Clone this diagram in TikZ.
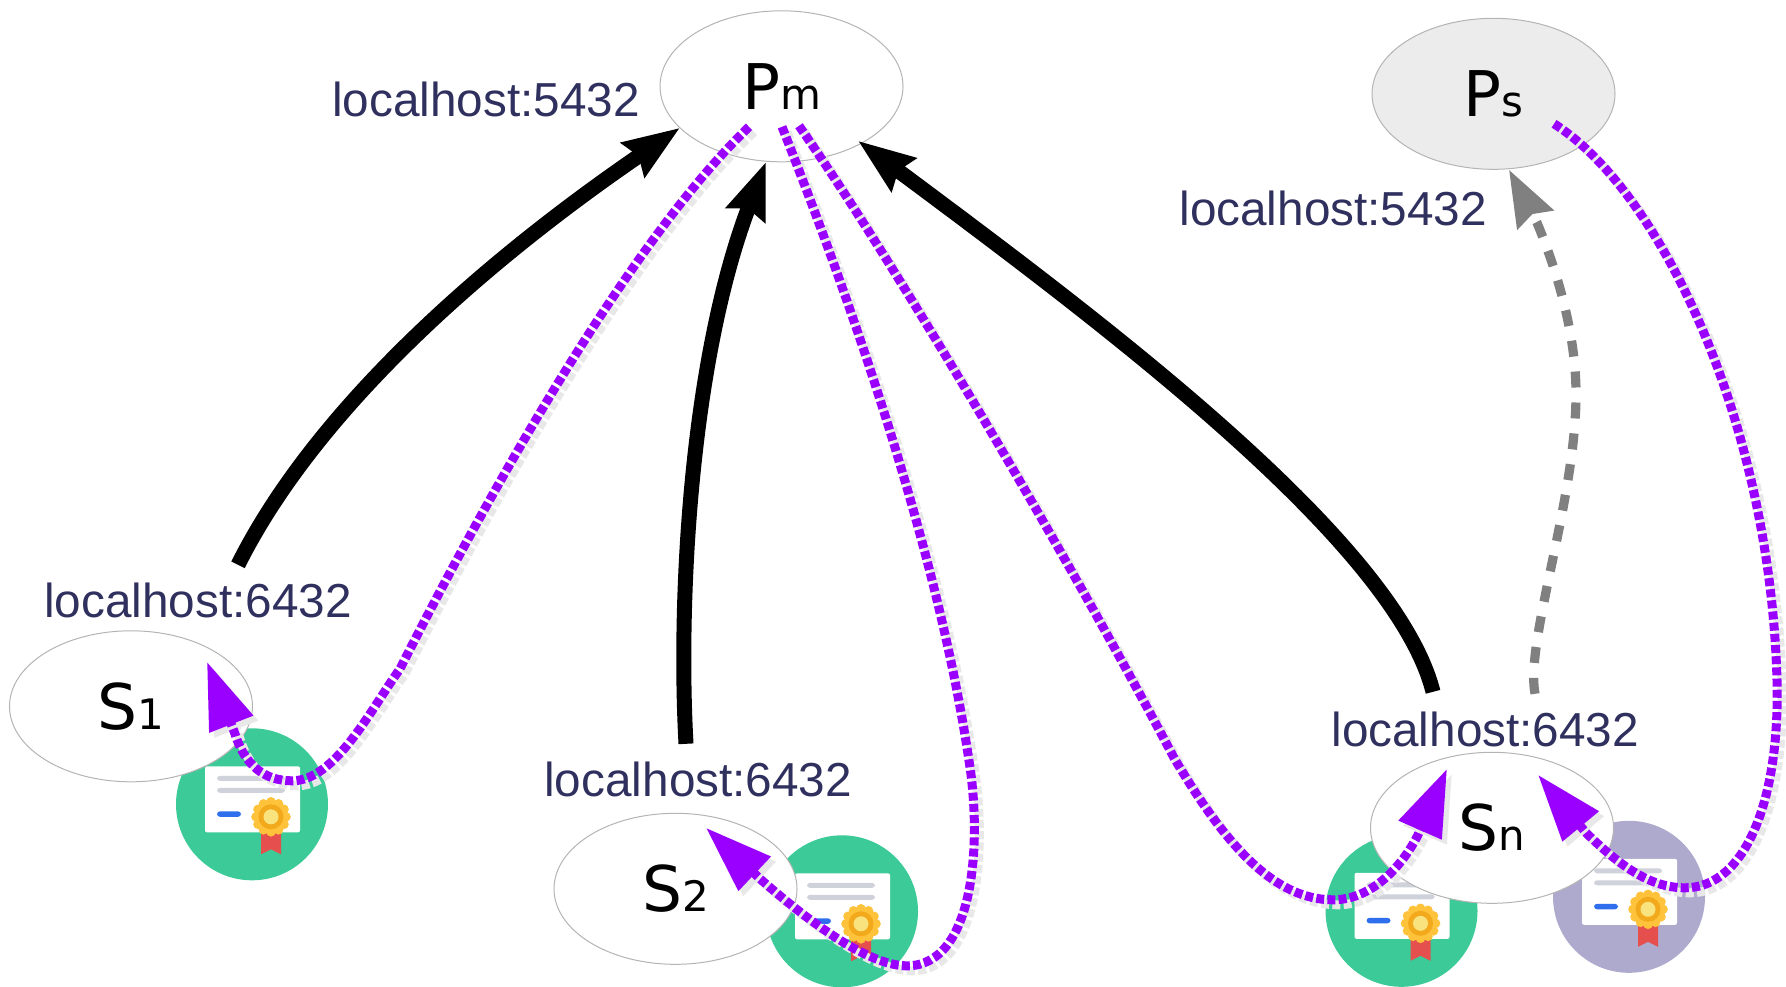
\documentclass[tikz,border=0pt]{standalone}
\usepackage{fontspec}
\setmainfont{Liberation Sans}
\newfontfamily\symfont{DejaVu Sans}
\usetikzlibrary{arrows.meta,shapes.geometric}
\definecolor{labelblue}{HTML}{30305F}
\definecolor{ringgray}{HTML}{B4B4B4}
\definecolor{pfill}{HTML}{ECECEC}
\definecolor{plinecol}{HTML}{9900FF}
\definecolor{pshadowcol}{HTML}{E8E8E8}
\definecolor{certgreen}{HTML}{3CCB98}
\definecolor{certpurple}{HTML}{AEAACD}
\definecolor{certline}{HTML}{D0D2DB}
\definecolor{certblue}{HTML}{2F6FED}
\definecolor{sealout}{HTML}{FFC23B}
\definecolor{sealmid}{HTML}{F2A91C}
\definecolor{sealin}{HTML}{F9E37F}
\definecolor{ribbon}{HTML}{E5504E}
\tikzset{
  peer/.style={ellipse,draw=ringgray,line width=0.5pt,fill=white,minimum width=121.5pt,minimum height=75.5pt,inner sep=0pt,text=black,font=\symfont},
  portlabel/.style={anchor=base west,inner sep=0pt,text=labelblue,font=\fontsize{23.85}{26}\selectfont},
  solidlink/.style={line width=7.5pt,black,-{Stealth[length=28pt,width=20pt,inset=3pt]}},
  standbylink/.style={line width=4.6pt,gray,dash pattern=on 8pt off 7.5pt,-{Stealth[length=28pt,width=20pt,inset=3pt]}},
  pline/.style={line width=4.5pt,plinecol,dash pattern=on 4pt off 1.6pt,-{Triangle[length=33.5pt,width=22.5pt]}},
  pshadow/.style={line width=4.5pt,pshadowcol,dash pattern=on 4pt off 1.6pt,-{Triangle[length=33.5pt,width=22.5pt]},transform canvas={shift={(5,5)}}}
}
\newcommand{\plabel}[2]{{\fontsize{31.5}{32}\selectfont #1\fontsize{21}{22}\selectfont #2}}
\newcommand{\certbadge}[3]{%
  \begin{scope}[shift={(#1,#2)}]
    \fill[#3] (0,0) circle[radius=76];
    \fill[white,rounded corners=1pt] (-47,-38) rectangle (48,28);
    \fill[certline,rounded corners=1.5pt] (-35,-28.5) rectangle (33,-23.5);
    \fill[certline,rounded corners=1.5pt] (-35,-16.5) rectangle (33,-11.5);
    \fill[certblue,rounded corners=1.5pt] (-35,7) rectangle (-11,12.5);
    \fill[ribbon] (9,24) -- (29,24) -- (29,50) -- (19,45) -- (9,50) -- cycle;
    \foreach \a in {0,30,...,330}{\fill[sealout] (19,12.5) ++(\a:15) circle[radius=4.8];}
    \fill[sealout] (19,12.5) circle[radius=16];
    \fill[sealmid] (19,12.5) circle[radius=12.5];
    \fill[sealin] (19,12.5) circle[radius=7.5];
  \end{scope}}
\newcommand{\dottedarrow}[1]{\draw[pshadow] #1; \draw[pline] #1;}
\begin{document}
\begin{tikzpicture}[x=0.5pt,y=-0.5pt]
\useasboundingbox (0,0) rectangle (1786,986);
\begin{scope}[yshift=-0.4pt]
% certificates
\certbadge{252}{803.5}{certgreen}
\certbadge{842}{910.5}{certgreen}
\certbadge{1401.5}{910}{certgreen}
\certbadge{1629}{896}{certpurple}
% peers
\node[peer] (Pm) at (781.5,85.5) {\plabel{P}{m}};
\node[peer,fill=pfill] (Ps) at (1493.5,93) {\plabel{P}{s}};
\node[peer] (S1) at (131,705.5) {\plabel{S}{1}};
\node[peer] (S2) at (675.5,888) {\plabel{S}{2}};
\node[peer] (Sn) at (1492,827) {\plabel{S}{n}};
% labels
\node[portlabel] (lpm) at (332,116) {localhost:5432};
\node[portlabel] (lps) at (1179,225) {localhost:5432};
\node[portlabel] (ls1) at (44,617) {localhost:6432};
\node[portlabel] (ls2) at (544,796) {localhost:6432};
\node[portlabel] (lsn) at (1331,746) {localhost:6432};
% connector ends
\coordinate (a1) at (238,564);
\coordinate (a1e) at (680,127);
\coordinate (a2) at (686,743);
\coordinate (a2e) at (766,161);
\coordinate (a3) at (1433,691);
\coordinate (a3e) at (858,140);
\coordinate (g) at (1535,693);
\coordinate (ge) at (1509,169);
\coordinate (d1) at (749,126);
\coordinate (d1e) at (207,661);
\coordinate (d2) at (782,126);
\coordinate (d2e) at (706,827);
\coordinate (d3) at (799,125);
\coordinate (d3e) at (1447,768);
\coordinate (d4) at (1554,123);
\coordinate (d4e) at (1538,774);
% solid links
\draw[solidlink] (a1) .. controls (320,400) and (500,250) .. (a1e);
\draw[solidlink] (a2) .. controls (678,600) and (690,360) .. (a2e);
\draw[solidlink] (a3) .. controls (1395,540) and (1100,320) .. (a3e);
% standby link
\draw[standbylink] (g) .. controls (1525,640) and (1576,500) .. (1576,393) .. controls (1576,330) and (1555,265) .. (1537,222) -- (ge);
% purple links
\dottedarrow{(d1) .. controls (630,240) and (490,490) .. (400,668) .. controls (370,710) and (335,780) .. (292,780) .. controls (265,780) and (245,765) .. (235,733) -- (d1e)}
\dottedarrow{(d2) .. controls (835,260) and (935,530) .. (969,760) .. controls (982,840) and (975,965) .. (907,965) .. controls (875,965) and (825,935) .. (760,878) -- (d2e)}
\dottedarrow{(d3) .. controls (900,270) and (1070,560) .. (1174,757) .. controls (1220,835) and (1270,899) .. (1333,899) .. controls (1375,899) and (1405,860) .. (1418,834) -- (d3e)}
\dottedarrow{(d4) .. controls (1660,190) and (1770,420) .. (1777,680) .. controls (1780,800) and (1745,887) .. (1685,887) .. controls (1650,887) and (1620,865) .. (1586,832) -- (d4e)}
\end{scope}
\end{tikzpicture}
\end{document}
